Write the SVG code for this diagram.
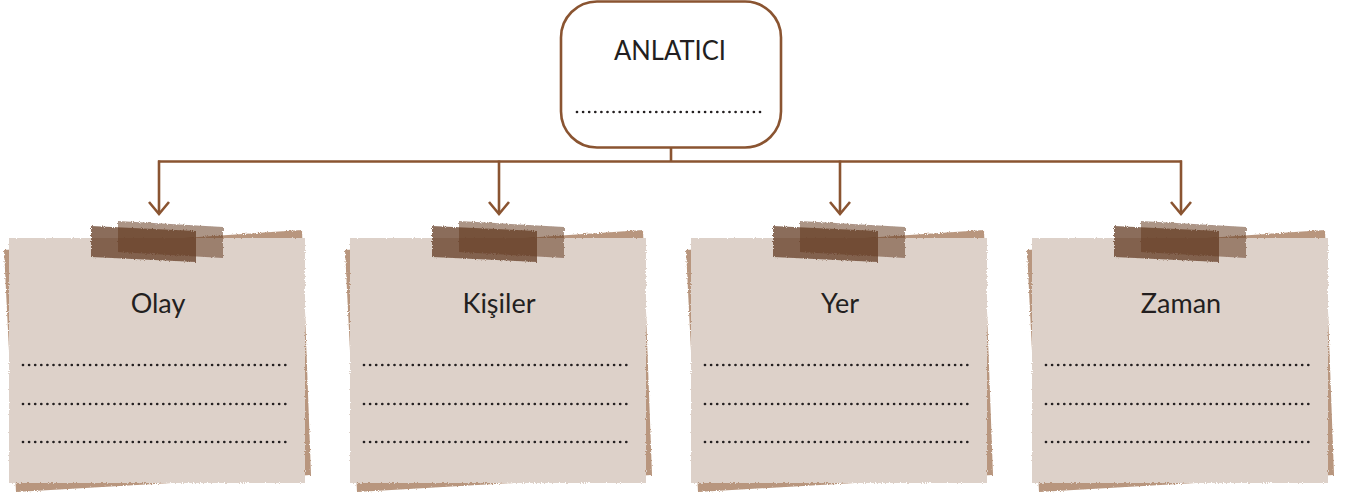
<svg xmlns="http://www.w3.org/2000/svg" width="1346" height="495" viewBox="0 0 1346 495">
<style>
.conn{fill:none;stroke:#8a5431;stroke-width:2.6}
.box{fill:#ffffff;stroke:#8a5431;stroke-width:2.6}
.title{font-family:Lato,"Open Sans","Liberation Sans",sans-serif;font-size:27px;font-weight:400;fill:#231f20;text-anchor:middle}
.dots{fill:none;stroke:#231f20;stroke-width:2.7;stroke-linecap:round;stroke-dasharray:0 6.1}
.back{fill:#b8967e}
.paper{fill:#ddd1c9}
.tapeA{fill:#633a22;fill-opacity:0.74}
.tapeB{fill:#633a22;fill-opacity:0.54}
</style>
<defs>
<filter id="rough" x="-5%" y="-5%" width="110%" height="110%">
<feTurbulence type="fractalNoise" baseFrequency="0.9" numOctaves="2" seed="3" result="n"/>
<feDisplacementMap in="SourceGraphic" in2="n" scale="3" xChannelSelector="R" yChannelSelector="G"/>
</filter>
<marker id="chev" markerUnits="userSpaceOnUse" markerWidth="30" markerHeight="30" viewBox="-15 -15 30 30" refX="0" refY="0" orient="auto" overflow="visible">
<path d="M-12,-10 L0,0 L-12,10" fill="none" stroke="#8a5431" stroke-width="2.6"/>
</marker>
<g id="card">
<polygon class="back" points="-5,12 293,-8 302,237 7,254" filter="url(#rough)"/>
<rect class="paper" x="0" y="0" width="296" height="245" filter="url(#rough)"/>
<polygon class="tapeA" points="82,-12 187,-7 187,24 82,19" filter="url(#rough)"/>
<polygon class="tapeB" points="109,-17 214,-11 214,20 109,14" filter="url(#rough)"/>
<line class="dots" x1="14" y1="127" x2="280" y2="127"/>
<line class="dots" x1="14" y1="166" x2="280" y2="166"/>
<line class="dots" x1="14" y1="204" x2="280" y2="204"/>
</g>
</defs>

<g id="connectors">
<line class="conn" x1="671" y1="148" x2="671" y2="161.5"/>
<line class="conn" x1="158" y1="161.5" x2="1182" y2="161.5"/>
<line class="conn" x1="159" y1="160.5" x2="159" y2="214" marker-end="url(#chev)"/>
<line class="conn" x1="499" y1="160.5" x2="499" y2="214" marker-end="url(#chev)"/>
<line class="conn" x1="840" y1="160.5" x2="840" y2="214" marker-end="url(#chev)"/>
<line class="conn" x1="1181" y1="160.5" x2="1181" y2="214" marker-end="url(#chev)"/>
</g>

<g id="anlatici">
<rect class="box" x="561" y="1.5" width="220" height="146" rx="36" ry="36"/>
<text class="title" x="670" y="60" textLength="112" lengthAdjust="spacingAndGlyphs">ANLATICI</text>
<line class="dots" x1="577" y1="112" x2="763" y2="112"/>
</g>

<g id="olay" transform="translate(9,238)">
<use href="#card"/>
<text class="title" x="149" y="75">Olay</text>
</g>
<g id="kisiler" transform="translate(350,238)">
<use href="#card"/>
<text class="title" x="149" y="75">Kişiler</text>
</g>
<g id="yer" transform="translate(691,238)">
<use href="#card"/>
<text class="title" x="149" y="75">Yer</text>
</g>
<g id="zaman" transform="translate(1032,238)">
<use href="#card"/>
<text class="title" x="149" y="75">Zaman</text>
</g>
</svg>
